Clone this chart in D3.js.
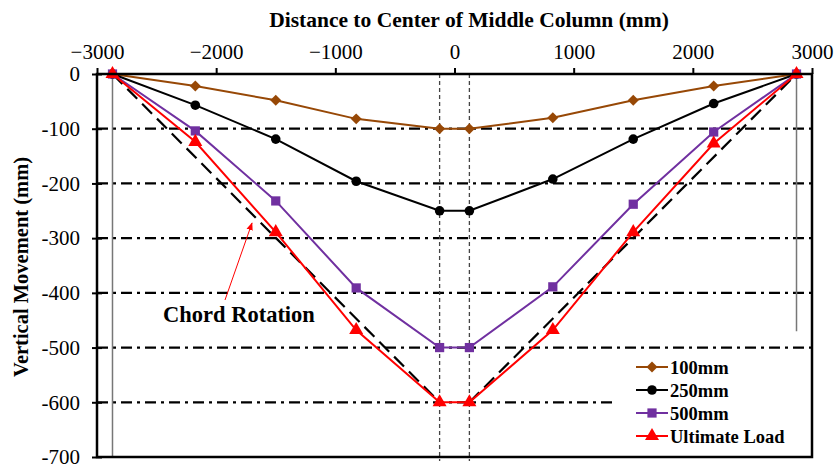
<!DOCTYPE html>
<html>
<head>
<meta charset="utf-8">
<script src="https://cdn.jsdelivr.net/npm/d3@7"></script>
<style>
  body { margin: 0; background: #fff; }
  svg { font-family: "Liberation Serif", "Times New Roman", serif; }
</style>
</head>
<body>
<script>
// positions along the beam (mm) and vertical movement per series (mm)
const xPos = [-2870, -2175, -1500, -825, -125, 125, 825, 1500, 2175, 2870];
const s100 = [0, -22, -48, -82, -100, -100, -80, -48, -22, 0];
const s250 = [0, -57, -119, -196, -250, -250, -192, -119, -54, 0];
const s500 = [0, -104, -232, -391, -500, -500, -389, -238, -106, 0];
const sUlt = [0, -124, -289, -468, -600, -600, -468, -289, -127, 0];

const seriesNames = ["100mm", "250mm", "500mm", "Ultimate Load"];
const xTicks = [-3000, -2000, -1000, 0, 1000, 2000, 3000];
const yTicks = [0, -100, -200, -300, -400, -500, -600, -700];
const gridVals = [-100, -200, -300, -400, -500, -600];

// chord rotation reference (two straight lines)
const chordLeft = [[-2870, 0], [-125, -600]];
const chordRight = [[125, -600], [2870, 0]];

const width = 835, height = 469;
const plotL = 97, plotR = 812, plotT = 74, plotB = 457;

const x = d3.scaleLinear().domain([-3000, 3000]).range([plotL, plotR]);
const y = d3.scaleLinear().domain([-700, 0]).range([plotB, plotT]);

const svg = d3.select("body").append("svg")
    .attr("width", width)
    .attr("height", height);

// dash-dot grid lines
svg.append("g")
  .selectAll("line")
  .data(gridVals)
  .enter().append("line")
    .attr("x1", plotL)
    .attr("x2", plotR)
    .attr("y1", d => y(d))
    .attr("y2", d => y(d))
    .attr("stroke", "#000")
    .attr("stroke-width", 2.2)
    .attr("stroke-dasharray", "11,5,3,5");

// support lines (gray)
svg.append("line")
    .attr("x1", x(-2870)).attr("x2", x(-2870))
    .attr("y1", y(0)).attr("y2", y(-700))
    .attr("stroke", "#777").attr("stroke-width", 1.5);
svg.append("line")
    .attr("x1", x(2870)).attr("x2", x(2870))
    .attr("y1", y(0)).attr("y2", y(-470))
    .attr("stroke", "#777").attr("stroke-width", 1.5);

// column faces
svg.append("g")
  .selectAll("line")
  .data([-125, 125])
  .enter().append("line")
    .attr("x1", d => x(d)).attr("x2", d => x(d))
    .attr("y1", y(0)).attr("y2", y(-700) + 4)
    .attr("stroke", "#444")
    .attr("stroke-width", 1.3)
    .attr("stroke-dasharray", "4,3");

// legend background hides grid behind it
svg.append("rect")
    .attr("x", 614).attr("y", 355)
    .attr("width", plotR - 614).attr("height", plotB - 355)
    .attr("fill", "#fff");

const line = d3.line().x(d => x(d[0])).y(d => y(d[1]));

// chord rotation dashed lines
[chordLeft, chordRight].forEach(seg => {
  svg.append("path")
      .attr("d", line(seg))
      .attr("fill", "none")
      .attr("stroke", "#000")
      .attr("stroke-width", 2.2)
      .attr("stroke-dasharray", "14,7");
});

const series = [
  { name: seriesNames[0], vals: s100, color: "#974806", sym: "diamond" },
  { name: seriesNames[1], vals: s250, color: "#000000", sym: "circle" },
  { name: seriesNames[2], vals: s500, color: "#7030A0", sym: "square" },
  { name: seriesNames[3], vals: sUlt, color: "#FF0000", sym: "triangle" }
];

function marker(g, sym, color) {
  if (sym === "diamond") {
    g.append("path").attr("d", d3.symbol(d3.symbolSquare, 60)())
      .attr("transform", "rotate(45)").attr("fill", color);
  } else if (sym === "circle") {
    g.append("circle").attr("r", 4.8).attr("fill", color);
  } else if (sym === "square") {
    g.append("path").attr("d", d3.symbol(d3.symbolSquare, 85)()).attr("fill", color);
  } else {
    g.append("path").attr("d", d3.symbol(d3.symbolTriangle, 85)()).attr("fill", color);
  }
}

series.forEach(s => {
  const pts = xPos.map((xv, i) => [xv, s.vals[i]]);
  svg.append("path")
      .attr("d", line(pts))
      .attr("fill", "none")
      .attr("stroke", s.color)
      .attr("stroke-width", 2);
  pts.forEach(p => {
    const g = svg.append("g").attr("transform", `translate(${x(p[0])},${y(p[1])})`);
    marker(g, s.sym, s.color);
  });
});

// frame
svg.append("rect")
    .attr("x", plotL).attr("y", plotT)
    .attr("width", plotR - plotL).attr("height", plotB - plotT)
    .attr("fill", "none")
    .attr("stroke", "#000")
    .attr("stroke-width", 2.5);

// top x axis
const xAxis = svg.append("g")
    .attr("transform", `translate(0,${plotT})`)
    .call(d3.axisTop(x).tickValues(xTicks).tickSize(6).tickSizeOuter(0).tickPadding(9)
      .tickFormat(d => d < 0 ? "\u2212" + Math.abs(d) : String(d)));
xAxis.select(".domain").remove();
xAxis.selectAll(".tick line").attr("stroke-width", 2);
xAxis.selectAll(".tick text")
    .attr("font-size", 21)
    .attr("font-family", "Liberation Serif")
    .attr("fill", "#000");

// left y axis, ticks crossing the axis
const yAxis = svg.append("g")
    .attr("transform", `translate(${plotL},0)`)
    .call(d3.axisLeft(y).tickValues(yTicks).tickSize(5).tickSizeOuter(0).tickPadding(12)
      .tickFormat(d => d === 0 ? "0" : "-" + Math.abs(d)));
yAxis.select(".domain").remove();
yAxis.selectAll(".tick line").attr("x1", 5).attr("stroke-width", 2);
yAxis.selectAll(".tick text")
    .attr("font-size", 21)
    .attr("font-family", "Liberation Serif")
    .attr("fill", "#000");

// titles
svg.append("text")
    .attr("x", 469).attr("y", 27)
    .attr("text-anchor", "middle")
    .attr("font-size", 21.5)
    .attr("font-weight", "bold")
    .text("Distance to Center of Middle Column (mm)");

svg.append("text")
    .attr("transform", "translate(28,267) rotate(-90)")
    .attr("text-anchor", "middle")
    .attr("font-size", 20.5)
    .attr("font-weight", "bold")
    .text("Vertical Movement (mm)");

// annotation
svg.append("defs").append("marker")
    .attr("id", "arrow")
    .attr("viewBox", "0 0 10 10")
    .attr("refX", 9).attr("refY", 5)
    .attr("markerWidth", 8).attr("markerHeight", 8)
    .attr("orient", "auto")
  .append("path")
    .attr("d", "M0,1 L10,5 L0,9 Z")
    .attr("fill", "#FF0000");

svg.append("line")
    .attr("x1", 225).attr("y1", 300)
    .attr("x2", 252).attr("y2", 223)
    .attr("stroke", "#FF0000")
    .attr("stroke-width", 1)
    .attr("marker-end", "url(#arrow)");

svg.append("text")
    .attr("x", 163).attr("y", 322)
    .attr("font-size", 22.5)
    .attr("font-weight", "bold")
    .text("Chord Rotation");

// legend
const legend = svg.append("g");
const legendY = [367, 390, 413, 436];
series.forEach((s, i) => {
  const g = legend.append("g").attr("transform", `translate(0,${legendY[i]})`);
  g.append("line")
      .attr("x1", 636).attr("x2", 668)
      .attr("stroke", s.color).attr("stroke-width", 2);
  const m = g.append("g").attr("transform", "translate(652,0)");
  marker(m, s.sym, s.color);
  g.append("text")
      .attr("x", 670).attr("y", 6.5)
      .attr("font-size", 18.5)
      .attr("font-weight", "bold")
      .text(s.name);
});
</script>
</body>
</html>
